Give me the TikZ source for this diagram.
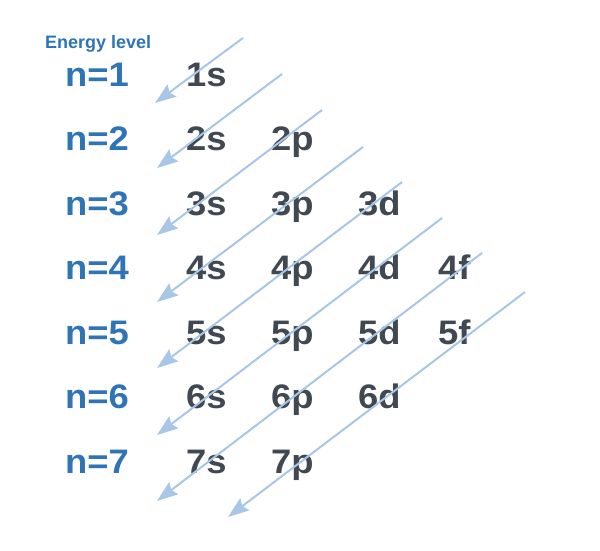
\documentclass[tikz,border=0pt]{standalone}
\usepackage{fontspec}
\setmainfont{Liberation Sans}
\newfontfamily\bigfont[FakeStretch=1.07]{Liberation Sans}
\usetikzlibrary{arrows.meta}
\definecolor{levelblue}{RGB}{46,116,182}
\definecolor{orbgrey}{RGB}{64,72,82}
\definecolor{arrowblue}{RGB}{168,198,230}
\begin{document}
\begin{tikzpicture}[x=1pt,y=-1pt,
  level/.style={levelblue,anchor=base west,inner sep=0pt,font=\bigfont\bfseries\fontsize{34}{34}\selectfont},
  orb/.style={orbgrey,anchor=base west,inner sep=0pt,font=\bigfont\bfseries\fontsize{34}{34}\selectfont},
  order/.style={arrowblue,line width=2pt,-{Stealth[length=21pt,width=15pt,inset=3pt]}}]
\useasboundingbox (0,0) rectangle (600,551);

\node[levelblue,anchor=base west,inner sep=0pt,font=\bfseries\fontsize{18}{18}\selectfont] (title) at(45,49){Energy level};

% energy levels
\node[level] (n1) at(65,86){n=1};
\node[level] (n2) at(65,150.5){n=2};
\node[level] (n3) at(65,215){n=3};
\node[level] (n4) at(65,279.5){n=4};
\node[level] (n5) at(65,344){n=5};
\node[level] (n6) at(65,408.5){n=6};
\node[level] (n7) at(65,473){n=7};

% subshells
\node[orb] (s1) at(186,86){1s};
\node[orb] (s2) at(186,150.5){2s};
\node[orb] (p2) at(271,150.5){2p};
\node[orb] (s3) at(186,215){3s};
\node[orb] (p3) at(271,215){3p};
\node[orb] (d3) at(358,215){3d};
\node[orb] (s4) at(186,279.5){4s};
\node[orb] (p4) at(271,279.5){4p};
\node[orb] (d4) at(358,279.5){4d};
\node[orb] (f4) at(438,279.5){4f};
\node[orb] (s5) at(186,344){5s};
\node[orb] (p5) at(271,344){5p};
\node[orb] (d5) at(358,344){5d};
\node[orb] (f5) at(438,344){5f};
\node[orb] (s6) at(186,408.5){6s};
\node[orb] (p6) at(271,408.5){6p};
\node[orb] (d6) at(358,408.5){6d};
\node[orb] (s7) at(186,473){7s};
\node[orb] (p7) at(271,473){7p};

% filling order
\coordinate (a1) at(243,38);  \coordinate (b1) at(155,103);
\coordinate (a2) at(282,74);  \coordinate (b2) at(157,168);
\coordinate (a3) at(322,110); \coordinate (b3) at(157,235);
\coordinate (a4) at(363,147); \coordinate (b4) at(157,302);
\coordinate (a5) at(402,182); \coordinate (b5) at(157,368);
\coordinate (a6) at(442,218); \coordinate (b6) at(157,435);
\coordinate (a7) at(482,253); \coordinate (b7) at(157,501);
\coordinate (a8) at(525,292); \coordinate (b8) at(228,517);

\draw[order] (a1) -- (b1);
\draw[order] (a2) -- (b2);
\draw[order] (a3) -- (b3);
\draw[order] (a4) -- (b4);
\draw[order] (a5) -- (b5);
\draw[order] (a6) -- (b6);
\draw[order] (a7) -- (b7);
\draw[order] (a8) -- (b8);
\end{tikzpicture}
\end{document}
